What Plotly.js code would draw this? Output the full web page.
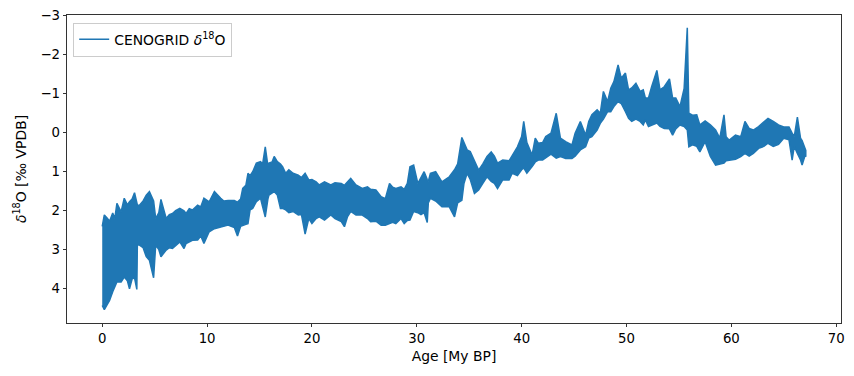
<!DOCTYPE html>
<html>
<head>
<meta charset="utf-8">
<script src="https://cdn.plot.ly/plotly-3.0.1.min.js"></script>
<style>html,body{margin:0;padding:0;background:#fff;}#chart{width:854px;height:376px;}</style>
</head>
<body>
<div id="chart"></div>
<script>
// Age (My BP) and the upper (lightest) / lower (heaviest) edge of the CENOGRID d18O band
const age = [0.0,0.2,0.5,0.7,1.0,1.2,1.4,1.8,2.1,2.4,2.6,2.85,3.08,3.3,3.35,3.55,3.9,4.2,4.5,4.9,5.1,5.4,5.6,6.1,6.4,6.7,7.0,7.4,7.8,8.0,8.3,8.6,9.1,9.4,9.7,10.2,10.7,11.3,11.6,12.0,12.6,12.9,13.2,13.4,13.7,13.9,14.1,14.35,14.7,15.1,15.3,15.55,15.8,15.9,16.2,16.4,16.7,17.0,17.2,17.5,17.8,18.2,18.7,19.0,19.35,19.7,20.0,20.4,20.7,21.2,21.8,22.2,22.8,23.1,23.4,23.7,24.2,24.8,25.3,25.6,26.1,26.6,27.0,27.4,27.7,28.0,28.5,28.8,29.1,29.35,29.7,30.1,30.4,30.7,31.0,31.1,31.3,31.8,32.4,33.1,33.6,33.9,34.3,34.5,34.8,35.1,35.5,35.9,36.3,36.7,37.1,37.4,37.7,38.2,38.8,39.1,39.6,40.0,40.2,40.5,41.0,41.3,41.6,42.0,42.3,42.8,43.3,43.7,44.2,44.8,45.1,45.6,46.1,46.4,46.7,47.2,47.5,47.8,48.2,48.5,48.8,49.2,49.5,49.9,50.2,50.5,50.9,51.3,51.6,51.8,52.1,52.4,52.9,53.2,53.6,54.1,54.4,54.7,55.1,55.5,55.8,55.95,56.3,56.7,57.0,57.5,58.0,58.5,58.9,59.3,59.5,59.8,60.4,60.9,61.3,61.7,62.1,62.6,63.1,63.5,64.0,64.5,65.0,65.5,65.8,66.0,66.3,66.6,66.75,67.0,67.1];
const upper = [2.40,2.11,2.20,2.27,2.06,2.20,1.81,2.03,1.68,1.85,1.77,1.70,1.54,1.80,1.85,1.86,1.75,1.60,1.51,1.75,2.20,2.05,1.71,2.20,2.10,2.07,2.00,1.94,2.00,2.07,1.95,1.98,1.86,1.90,1.68,1.77,1.51,1.68,1.75,1.74,1.74,1.78,1.70,1.43,1.35,1.04,1.10,1.00,0.78,0.74,0.80,0.36,0.85,0.78,0.75,0.61,0.74,0.80,0.87,1.04,0.95,1.04,1.09,1.15,1.04,1.21,1.20,1.26,1.34,1.26,1.34,1.28,1.30,1.35,1.25,1.17,1.34,1.43,1.39,1.45,1.47,1.64,1.69,1.30,1.40,1.43,1.39,1.45,1.30,0.87,0.83,1.30,1.15,1.00,1.20,1.25,1.04,1.00,1.26,1.13,0.95,0.80,0.12,0.27,0.44,0.48,0.70,0.96,0.80,0.61,0.49,0.60,0.78,0.70,0.72,0.57,0.36,0.10,-0.29,0.25,0.57,0.14,0.27,0.25,0.10,0.01,-0.50,0.14,0.23,0.31,0.01,-0.29,0.06,-0.29,-0.46,-0.59,-0.50,-1.06,-0.80,-1.14,-1.31,-1.74,-1.40,-1.53,-1.10,-1.15,-1.27,-1.06,-1.10,-0.89,-0.89,-1.18,-1.60,-1.10,-1.18,-1.38,-0.89,-0.89,-0.67,-1.14,-2.69,-0.50,-0.45,-0.46,-0.20,-0.30,-0.20,-0.07,0.14,-0.46,0.10,0.19,0.06,0.10,-0.29,-0.11,-0.07,-0.16,-0.29,-0.37,-0.29,-0.20,-0.15,-0.15,0.01,0.10,-0.40,0.14,0.20,0.36,0.45];
const lower = [4.43,4.54,4.40,4.30,4.08,3.95,3.83,3.83,3.70,3.80,4.00,3.75,3.72,4.02,2.88,2.88,2.95,3.18,3.27,3.72,2.88,3.00,3.18,3.01,2.95,2.97,2.90,2.80,2.97,2.84,2.80,2.76,2.75,2.65,2.84,2.54,2.46,2.43,2.40,2.37,2.43,2.65,2.40,2.37,2.35,2.33,1.98,1.94,1.77,1.68,1.90,2.16,1.70,1.60,1.55,1.51,1.60,1.94,1.94,1.98,2.05,2.02,2.11,2.10,2.60,2.20,2.33,2.20,2.16,2.24,2.11,2.20,2.28,2.41,2.15,2.02,2.11,2.11,2.20,2.28,2.27,2.37,2.37,2.33,2.30,2.33,2.20,2.33,2.25,2.24,2.02,2.05,2.10,2.05,2.30,1.80,1.68,1.75,1.90,1.90,2.16,1.80,1.73,1.30,1.04,1.20,1.56,1.47,1.30,1.13,1.25,1.30,1.43,1.21,1.21,1.04,1.10,0.95,0.90,1.04,0.87,0.75,0.70,0.70,0.65,0.55,0.65,0.61,0.66,0.66,0.60,0.44,0.36,0.14,0.10,-0.07,-0.24,-0.35,-0.54,-0.54,-0.67,-0.80,-0.75,-0.54,-0.37,-0.29,-0.35,-0.29,-0.20,-0.33,-0.16,-0.20,-0.25,-0.16,-0.11,-0.10,0.06,-0.10,-0.20,-0.16,-0.07,0.36,0.31,0.35,0.49,0.23,0.61,0.83,0.80,0.78,0.72,0.70,0.68,0.61,0.53,0.60,0.53,0.40,0.35,0.27,0.35,0.30,0.14,0.18,0.70,0.35,0.53,0.70,0.83,0.61,0.60];
const xTicks = [0,10,20,30,40,50,60,70];
const yTicks = [-3,-2,-1,0,1,2,3,4];
const seriesName = 'CENOGRID <i>δ</i><sup>18</sup>O';

const C = '#1f77b4';
const bandX = age.concat(age.slice().reverse());
const bandY = upper.concat(lower.slice().reverse());

const traces = [
  {x: bandX, y: bandY, type: 'scatter', mode: 'lines', fill: 'toself', fillcolor: C,
   line: {color: C, width: 1.5}, showlegend: false, hoverinfo: 'skip'},
  {x: [null], y: [null], type: 'scatter', mode: 'lines', name: seriesName,
   line: {color: C, width: 1.5}, showlegend: true}
];

const font = {family: 'DejaVu Sans, sans-serif', size: 13.9, color: '#000'};
const tickFont = {family: 'DejaVu Sans, sans-serif', size: 13.3, color: '#000'};
const layout = {
  width: 854, height: 376,
  margin: {l: 67, r: 13, t: 15, b: 53, pad: 0},
  paper_bgcolor: '#fff', plot_bgcolor: '#fff',
  font: font,
  showlegend: true,
  legend: {x: 0.008, y: 0.975, xanchor: 'left', yanchor: 'top', bgcolor: 'rgba(255,255,255,0.8)',
           bordercolor: '#cccccc', borderwidth: 1, font: font, itemwidth: 30, tracegroupgap: 0},
  xaxis: {range: [-3.36, 70.46], tickvals: xTicks, ticktext: xTicks.map(String), ticks: 'outside', ticklen: 3.5,
          tickwidth: 0.8, tickcolor: '#000', tickfont: tickFont, showline: true, linecolor: '#000', linewidth: 0.8, mirror: true,
          showgrid: false, zeroline: false, title: {text: 'Age [My BP]', font: font, standoff: 5}},
  yaxis: {range: [4.88, -3.02], tickvals: yTicks, ticktext: yTicks.map(v => v < 0 ? '\u2212' + Math.abs(v) : String(v)),
          ticks: 'outside', ticklen: 3.5, tickwidth: 0.8, tickcolor: '#000', tickfont: tickFont, showline: true, linecolor: '#000',
          linewidth: 0.8, mirror: true, showgrid: false, zeroline: false,
          title: {text: '<i>δ</i><sup>18</sup>O [‰ VPDB]', font: font, standoff: 10}}
};
Plotly.newPlot('chart', traces, layout, {displayModeBar: false, staticPlot: true});
</script>
</body>
</html>
